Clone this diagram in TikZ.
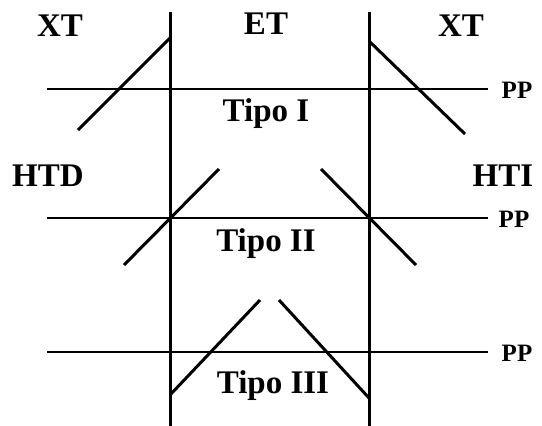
\documentclass[tikz,border=0pt]{standalone}
\usepackage{fontspec}
\setmainfont{Liberation Serif}
\begin{document}
\begin{tikzpicture}[x=1pt,y=-1pt,
  ln/.style={line width=3pt},
  hl/.style={line width=2.2pt},
  lab/.style={font=\fontsize{33}{33}\selectfont\bfseries, inner sep=0pt},
  pp/.style={font=\fontsize{25}{25}\selectfont\bfseries, inner sep=0pt}]
\useasboundingbox (0,0) rectangle (542,426);
% verticals
\coordinate (v1t) at (170,12); \coordinate (v1b) at (170,426);
\coordinate (v2t) at (369,12); \coordinate (v2b) at (369,426);
\draw[ln] (v1t) -- (v1b);
\draw[ln] (v2t) -- (v2b);
% horizontals
\coordinate (h1a) at (47,89);  \coordinate (h1b) at (488,89);
\coordinate (h2a) at (47,218); \coordinate (h2b) at (488,218);
\coordinate (h3a) at (47,352); \coordinate (h3b) at (488,352);
\draw[hl] (h1a) -- (h1b);
\draw[hl] (h2a) -- (h2b);
\draw[hl] (h3a) -- (h3b);
% Tipo I
\coordinate (a1) at (78,130); \coordinate (a2) at (170,38);
\coordinate (b1) at (369,41); \coordinate (b2) at (465,134);
\draw[ln] (a1) -- (a2);
\draw[ln] (b1) -- (b2);
% Tipo II
\coordinate (c1) at (124,265); \coordinate (c2) at (219,169);
\coordinate (d1) at (321,169); \coordinate (d2) at (416,265);
\draw[ln] (c1) -- (c2);
\draw[ln] (d1) -- (d2);
% Tipo III
\coordinate (e1) at (170,395); \coordinate (e2) at (260,300);
\coordinate (f1) at (279,300); \coordinate (f2) at (369,398);
\draw[ln] (e1) -- (e2);
\draw[ln] (f1) -- (f2);
% labels
\node[lab] (xt1) at (60,26) {XT};
\node[lab] (et) at (266,24) {ET};
\node[lab] (xt2) at (461,26) {XT};
\node[lab] (htd) at (48,176) {HTD};
\node[lab] (hti) at (503,176) {HTI};
\node[lab] (t1) at (266,114) {Tipo I};
\node[lab] (t2) at (266,244) {Tipo II};
\node[lab] (t3) at (273,386) {Tipo III};
\node[pp] (pp1) at (517,90) {PP};
\node[pp] (pp2) at (514,219) {PP};
\node[pp] (pp3) at (517,353) {PP};
\end{tikzpicture}
\end{document}
